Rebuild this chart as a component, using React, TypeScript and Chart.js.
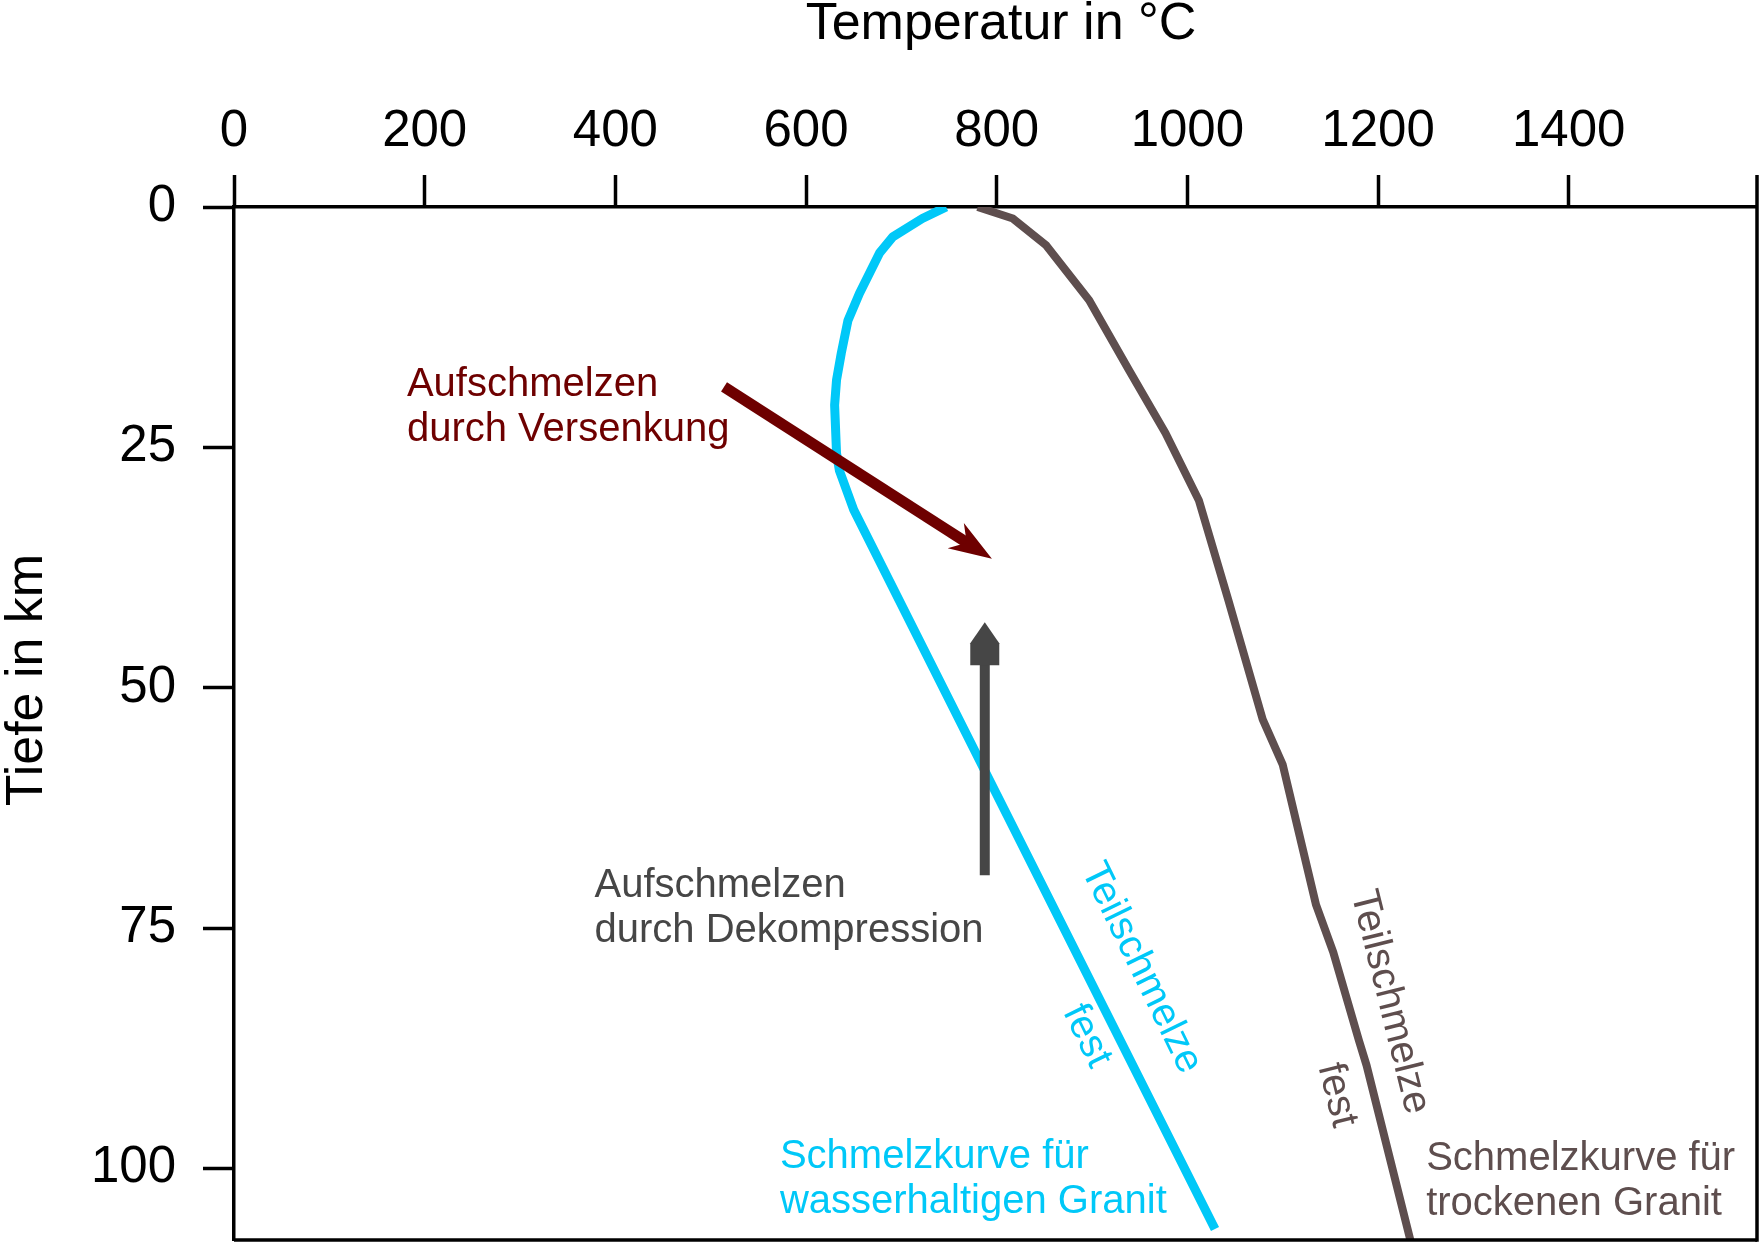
import React, { useEffect, useRef } from "react";
import { Chart, registerables } from "chart.js";

Chart.register(...registerables);

// ---- data (temperature in °C, depth in km) ----
const temperatureTicks = [0, 200, 400, 600, 800, 1000, 1200, 1400];
const depthTicks = [0, 25, 50, 75, 100];

const waterGraniteTemp = [747, 722, 691, 677, 656, 644, 637, 632, 630, 632, 635, 650, 1029];
const waterGraniteDepth = [0, 1.2, 3.1, 4.8, 9.0, 11.8, 15.2, 18.0, 20.6, 25.6, 27.4, 31.5, 106.3];

const dryGraniteTemp = [780, 817, 852, 897, 939, 977, 1012, 1043, 1079, 1100, 1135, 1153, 1180, 1188, 1234];
const dryGraniteDepth = [0, 1.2, 4.0, 9.7, 17.0, 23.5, 30.5, 40.9, 53.3, 58.0, 72.6, 77.5, 86.7, 89.3, 107.5];

const burialArrowTemp = [514, 795];
const burialArrowDepth = [18.7, 36.6];

const decompArrowTemp = [787.5, 787.5];
const decompArrowDepth = [69.5, 43.2];

const xTitle = "Temperatur in °C";
const yTitle = "Tiefe in km";
const burialLabel = ["Aufschmelzen", "durch Versenkung"];
const decompLabel = ["Aufschmelzen", "durch Dekompression"];
const waterLabel = ["Schmelzkurve für", "wasserhaltigen Granit"];
const dryLabel = ["Schmelzkurve für", "trockenen Granit"];

const FONT = '"Liberation Sans", Arial, Helvetica, sans-serif';
const BLUE = "#00c8f8";
const BROWN = "#5e4e4e";
const DARKRED = "#6e0000";
const GRAY = "#464646";

function drawArrow(
  ctx: CanvasRenderingContext2D,
  x0: number, y0: number, x1: number, y1: number,
  color: string, shaftW: number, head: number[][], shaftEnd: number
) {
  const dx = x1 - x0, dy = y1 - y0;
  const len = Math.hypot(dx, dy);
  const ux = dx / len, uy = dy / len;
  const nx = -uy, ny = ux;
  const P = (u: number, v: number) => [x1 + ux * u + nx * v, y1 + uy * u + ny * v];
  ctx.save();
  ctx.strokeStyle = color;
  ctx.fillStyle = color;
  ctx.lineWidth = shaftW;
  ctx.lineCap = "butt";
  const e = P(shaftEnd, 0);
  ctx.beginPath();
  ctx.moveTo(x0, y0);
  ctx.lineTo(e[0], e[1]);
  ctx.stroke();
  ctx.beginPath();
  head.forEach(([u, v], i) => {
    const p = P(u, v);
    if (i === 0) ctx.moveTo(p[0], p[1]);
    else ctx.lineTo(p[0], p[1]);
  });
  ctx.closePath();
  ctx.fill();
  ctx.restore();
}

const overlayPlugin = {
  id: "overlay",
  afterDraw(chart: any) {
    const { ctx, chartArea: ca, scales } = chart;
    const xs = scales.x, ys = scales.y;
    const px = (t: number) => xs.getPixelForValue(t);
    const py = (d: number) => ys.getPixelForValue(d);
    ctx.save();

    // frame right and bottom
    ctx.strokeStyle = "#000";
    ctx.lineWidth = 3.5;
    ctx.beginPath();
    ctx.moveTo(ca.right, ca.top - 32);
    ctx.lineTo(ca.right, ca.bottom + 1.75);
    ctx.stroke();
    ctx.beginPath();
    ctx.moveTo(ca.left, ca.bottom);
    ctx.lineTo(ca.right, ca.bottom);
    ctx.stroke();

    // arrows
    drawArrow(
      ctx,
      px(burialArrowTemp[0]), py(burialArrowDepth[0]),
      px(burialArrowTemp[1]), py(burialArrowDepth[1]),
      DARKRED, 11,
      [[0, 0], [-43, -15], [-30, 0], [-43, 15]],
      -28
    );
    drawArrow(
      ctx,
      px(decompArrowTemp[0]), py(decompArrowDepth[0]),
      px(decompArrowTemp[1]), py(decompArrowDepth[1]),
      GRAY, 10,
      [[0, 0], [-21, -14.5], [-43, -14.5], [-43, 14.5], [-21, 14.5]],
      -42
    );

    // axis titles
    ctx.fillStyle = "#000";
    ctx.font = `52px ${FONT}`;
    ctx.textAlign = "center";
    ctx.textBaseline = "alphabetic";
    ctx.fillText(xTitle, 1001, 39);
    ctx.save();
    ctx.translate(42, 680);
    ctx.rotate(-Math.PI / 2);
    ctx.fillText(yTitle, 0, 0);
    ctx.restore();

    // annotation labels
    ctx.font = `40px ${FONT}`;
    ctx.textAlign = "left";
    const block = (lines: string[], t: number, d1: number, d2: number, color: string) => {
      ctx.fillStyle = color;
      ctx.fillText(lines[0], px(t), py(d1));
      ctx.fillText(lines[1], px(t), py(d2));
    };
    block(burialLabel, 181.4, 19.71, 24.39, DARKRED);
    block(decompLabel, 378.1, 71.77, 76.49, GRAY);
    block(waterLabel, 572.6, 99.97, 104.65, BLUE);
    block(dryLabel, 1250.5, 100.18, 104.86, BROWN);

    const rotated = (text: string, t: number, d: number, deg: number, color: string) => {
      ctx.save();
      ctx.translate(px(t), py(d));
      ctx.rotate((deg * Math.PI) / 180);
      ctx.fillStyle = color;
      ctx.textAlign = "center";
      ctx.textBaseline = "middle";
      ctx.fillText(text, 0, 0);
      ctx.restore();
    };
    rotated("Teilschmelze", 951.6, 79.16, 64, BLUE);
    rotated("fest", 894.5, 86.23, 64, BLUE);
    rotated("Teilschmelze", 1212.2, 82.69, 76, BROWN);
    rotated("fest", 1156.7, 92.37, 76, BROWN);

    ctx.restore();
  },
};

export default function App() {
  const canvasRef = useRef<HTMLCanvasElement | null>(null);

  useEffect(() => {
    document.body.style.margin = "0";
    const canvas = canvasRef.current;
    if (!canvas) return;
    const tickFont = { family: FONT, size: 51 };
    const chart = new Chart(canvas, {
      type: "scatter",
      data: {
        datasets: [
          {
            label: "Schmelzkurve für wasserhaltigen Granit",
            data: waterGraniteTemp.map((t, i) => ({ x: t, y: waterGraniteDepth[i] })),
            showLine: true,
            borderColor: BLUE,
            backgroundColor: BLUE,
            borderWidth: 9,
            pointRadius: 0,
            tension: 0,
            borderJoinStyle: "round",
            fill: false,
          },
          {
            label: "Schmelzkurve für trockenen Granit",
            data: dryGraniteTemp.map((t, i) => ({ x: t, y: dryGraniteDepth[i] })),
            showLine: true,
            borderColor: BROWN,
            backgroundColor: BROWN,
            borderWidth: 8,
            pointRadius: 0,
            tension: 0,
            borderJoinStyle: "round",
            fill: false,
          },
        ],
      },
      options: {
        responsive: false,
        animation: false,
        events: [],
        layout: { padding: { top: 0, left: 0, right: 3, bottom: 5 } },
        plugins: {
          legend: { display: false },
          tooltip: { enabled: false },
          title: { display: false },
        },
        scales: {
          x: {
            type: "linear",
            position: "top",
            min: 0,
            max: 1597.5,
            afterBuildTicks: (s: any) => {
              s.ticks = temperatureTicks.map((v) => ({ value: v }));
            },
            afterFit: (s: any) => {
              s.height = 207;
              s.paddingLeft = 0;
              s.paddingRight = 0;
            },
            ticks: {
              autoSkip: false,
              maxRotation: 0,
              minRotation: 0,
              font: tickFont,
              color: "#000",
              padding: 12,
              callback: (v: any) => String(v),
            },
            grid: {
              drawOnChartArea: false,
              drawTicks: true,
              tickLength: 32,
              tickWidth: 3.5,
              tickColor: "#000",
            },
            border: { display: true, color: "#000", width: 3.5 },
          },
          y: {
            type: "linear",
            position: "left",
            reverse: true,
            min: 0,
            max: 107.45,
            afterBuildTicks: (s: any) => {
              s.ticks = depthTicks.map((v) => ({ value: v }));
            },
            afterFit: (s: any) => {
              s.width = 234;
              s.paddingTop = 0;
              s.paddingBottom = 0;
            },
            ticks: {
              autoSkip: false,
              font: tickFont,
              color: "#000",
              padding: 27,
              callback: (v: any) => String(v),
            },
            grid: {
              drawOnChartArea: false,
              drawTicks: true,
              tickLength: 31,
              tickWidth: 3.5,
              tickColor: "#000",
            },
            border: { display: true, color: "#000", width: 3.5 },
          },
        },
      },
      plugins: [overlayPlugin],
    } as any);
    return () => chart.destroy();
  }, []);

  return (
    <div style={{ width: 1760, height: 1245 }}>
      <canvas ref={canvasRef} width={1760} height={1245} style={{ display: "block" }} />
    </div>
  );
}
